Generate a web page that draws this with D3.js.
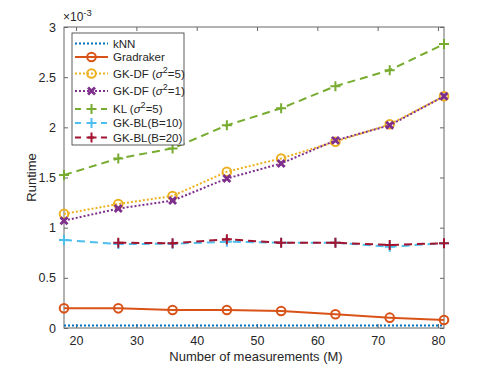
<!DOCTYPE html>
<html><head><meta charset="utf-8">
<script src="https://cdn.jsdelivr.net/npm/d3@7"></script>
<style>body{margin:0;background:#fff}svg{font-family:"Liberation Sans",Arial,sans-serif}</style>
</head><body><svg id="c" width="491" height="368"></svg>
<script>
const xs = [18, 27, 36, 45, 54, 63, 72, 81];
const knn = [0.025, 0.025, 0.025, 0.025, 0.025, 0.025, 0.025, 0.025];
const gradraker = [0.196, 0.196, 0.180, 0.180, 0.170, 0.137, 0.103, 0.080];
const gkdf5 = [1.137, 1.236, 1.316, 1.558, 1.690, 1.857, 2.030, 2.310];
const gkdf1 = [1.070, 1.190, 1.270, 1.490, 1.640, 1.870, 2.020, 2.310];
const kl5 = [1.525, 1.690, 1.790, 2.020, 2.190, 2.410, 2.570, 2.830];
const gkbl10 = [0.877, 0.837, 0.840, 0.860, 0.850, 0.850, 0.810, 0.845];
const gkbl20 = [null, 0.850, 0.845, 0.884, 0.850, 0.850, 0.827, 0.845];
const xTicks = [20, 30, 40, 50, 60, 70, 80];
const yTicks = [0, 0.5, 1, 1.5, 2, 2.5, 3];
const yTickLabels = ["0", "0.5", "1", "1.5", "2", "2.5", "3"];

const series = [
  {name: "kNN", vals: knn, color: "#0072BD", dash: "2,2", marker: "none", w: 2},
  {name: "Gradraker", vals: gradraker, color: "#D95319", dash: null, marker: "o", w: 2},
  {name: "GK-DF (σ2=5)", sup: ["GK-DF (", "σ", "2", "=5)"], vals: gkdf5, color: "#EDB120", dash: "2,2", marker: "o", w: 2},
  {name: "GK-DF (σ2=1)", sup: ["GK-DF (", "σ", "2", "=1)"], vals: gkdf1, color: "#7E2F8E", dash: "2,2", marker: "x", w: 2},
  {name: "KL (σ2=5)", sup: ["KL (", "σ", "2", "=5)"], vals: kl5, color: "#77AC30", dash: "8,5", marker: "+", w: 2},
  {name: "GK-BL(B=10)", vals: gkbl10, color: "#4DBEEE", dash: "8,5", marker: "+", w: 2},
  {name: "GK-BL(B=20)", vals: gkbl20, color: "#A2142F", dash: "8,5", marker: "+", w: 2}
];

const svg = d3.select("#c");
const L = 64, R = 444, T = 27, B = 328;
const x = d3.scaleLinear().domain([18, 81]).range([L, R]);
const y = d3.scaleLinear().domain([0, 3]).range([B, T]);
const axisColor = "#666";

svg.append("rect").attr("x", L).attr("y", T).attr("width", R - L).attr("height", B - T)
  .attr("fill", "none").attr("stroke", axisColor).attr("stroke-width", 1);

const gx = svg.append("g").attr("transform", `translate(0,${B})`)
  .call(d3.axisBottom(x).tickValues(xTicks).tickSize(-4).tickPadding(8).tickFormat(d3.format("d")));
const gxt = svg.append("g").attr("transform", `translate(0,${T})`)
  .call(d3.axisTop(x).tickValues(xTicks).tickSize(-4).tickFormat(""));
const gy = svg.append("g").attr("transform", `translate(${L},0)`)
  .call(d3.axisLeft(y).tickValues(yTicks).tickSize(-4).tickPadding(8).tickFormat((d, i) => yTickLabels[i]));
const gyr = svg.append("g").attr("transform", `translate(${R},0)`)
  .call(d3.axisRight(y).tickValues(yTicks).tickSize(-4).tickFormat(""));
[gx, gxt, gy, gyr].forEach(g => {
  g.select(".domain").remove();
  g.selectAll(".tick line").attr("stroke", axisColor);
  g.selectAll("text").attr("fill", "#262626").style("font-size", "12.5px").style("font-family", "Liberation Sans, Arial, sans-serif");
});

const ex = svg.append("text").attr("x", L - 1).attr("y", T - 6).attr("fill", "#262626")
  .style("font-size", "12px");
ex.append("tspan").text("×10");
ex.append("tspan").attr("dy", -5).style("font-size", "9.5px").text("-3");

svg.append("text").attr("x", (L + R) / 2 + 2).attr("y", 361).attr("text-anchor", "middle")
  .attr("fill", "#262626").style("font-size", "13px").text("Number of measurements (M)");
svg.append("text").attr("transform", `translate(36,${(T + B) / 2}) rotate(-90)`).attr("text-anchor", "middle")
  .attr("fill", "#262626").style("font-size", "13px").text("Runtime");

function drawMarker(g, type, cx, cy, color) {
  if (type === "o") {
    g.append("circle").attr("cx", cx).attr("cy", cy).attr("r", 4.3).attr("fill", "none")
      .attr("stroke", color).attr("stroke-width", 2);
  } else if (type === "+") {
    g.append("path").attr("d", `M${cx - 5},${cy}H${cx + 5}M${cx},${cy - 5}V${cy + 5}`)
      .attr("stroke", color).attr("stroke-width", 2);
  } else if (type === "x") {
    g.append("path").attr("d", `M${cx - 3.5},${cy - 3.5}L${cx + 3.5},${cy + 3.5}M${cx - 3.5},${cy + 3.5}L${cx + 3.5},${cy - 3.5}`)
      .attr("stroke", color).attr("stroke-width", 2.8);
  }
}

const plot = svg.append("g");
const line = d3.line().defined(d => d[1] != null).x(d => x(d[0])).y(d => y(d[1]));
series.forEach(s => {
  const pts = xs.map((v, i) => [v, s.vals[i]]);
  plot.append("path").datum(pts).attr("d", line).attr("fill", "none")
    .attr("stroke", s.color).attr("stroke-width", s.w)
    .attr("stroke-dasharray", s.dash);
  pts.forEach(p => { if (p[1] != null) drawMarker(plot, s.marker, x(p[0]), y(p[1]), s.color); });
});

const lg = svg.append("g");
lg.append("rect").attr("x", 72).attr("y", 33).attr("width", 112).attr("height", 112)
  .attr("fill", "#fff").attr("stroke", "#333").attr("stroke-width", 0.8);
const ly = [43.5, 57, 73.5, 91, 109, 123, 137.5];
series.forEach((s, i) => {
  const yy = ly[i];
  lg.append("line").attr("x1", 75).attr("x2", 108).attr("y1", yy).attr("y2", yy)
    .attr("stroke", s.color).attr("stroke-width", 2).attr("stroke-dasharray", s.dash ? (s.dash === "8,5" ? "6,7" : "2,2") : null);
  drawMarker(lg, s.marker, 91.5, yy, s.color);
  const t = lg.append("text").attr("x", 113).attr("y", yy + 4).attr("fill", "#262626").style("font-size", "11.5px");
  if (s.sup) {
    t.append("tspan").text(s.sup[0]);
    t.append("tspan").style("font-style", "italic").text(s.sup[1]);
    t.append("tspan").attr("dy", -5).style("font-size", "9px").text(s.sup[2]);
    t.append("tspan").attr("dy", 5).text(s.sup[3]);
  } else t.text(s.name);
});
</script></body></html>
